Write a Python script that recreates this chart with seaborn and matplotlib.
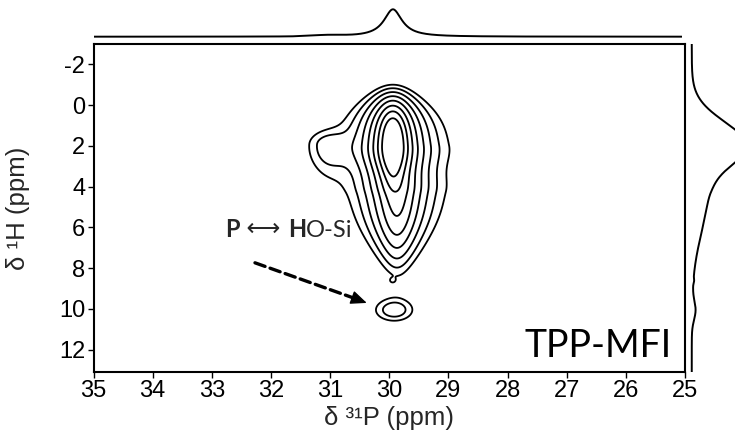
import numpy as np
import matplotlib
matplotlib.use("Agg")
import matplotlib.pyplot as plt
import seaborn as sns

# ---------------- data ----------------
p_ticks = [35, 34, 33, 32, 31, 30, 29, 28, 27, 26, 25]
h_ticks = [-2, 0, 2, 4, 6, 8, 10, 12]

# 2D peaks: 31P centre, 1H centre, amplitude, 31P width, 1H width (upfield side / downfield side),
# and broadening of the 31P width on the upfield side (per ppm^2 of 1H)
peak_names = ["core", "tail", "shoulder", "neck", "HO-Si"]
peak_p = [29.94, 29.87, 31.05, 29.95, 29.92]
peak_h = [1.98, 4.26, 1.95, 8.62, 10.07]
peak_amp = [1.0, 0.29, 0.044, 0.015, 0.066]
peak_wp = [0.185, 0.31, 0.25, 0.05, 0.28]
peak_wh_up = [1.17, 1.0, 0.5, 0.12, 0.47]
peak_wh_dn = [1.0, 2.05, 1.1, 0.12, 0.47]
peak_wp_growth = [0.12, 0.0, 0.0, 0.0, 0.0]
peak_p_shape = ["lorentz", "lorentz", "gauss", "gauss", "gauss"]

contour_levels = [0.0388, 0.0561, 0.0814, 0.118, 0.171, 0.248, 0.360, 0.522]

sample_label = "TPP-MFI"
x_label = "δ ³¹P (ppm)"
y_label = "δ ¹H (ppm)"

# ---------------- build spectrum ----------------
P = np.linspace(25.0, 35.0, 1001)
Hs = np.linspace(-3.0, 13.1, 805)
PP, HH = np.meshgrid(P, Hs)
field = np.zeros_like(PP)
for pc, hc, a, wp, wu, wd, gr, shp in zip(peak_p, peak_h, peak_amp, peak_wp, peak_wh_up,
                                          peak_wh_dn, peak_wp_growth, peak_p_shape):
    dh = HH - hc
    wp_local = wp * (1.0 + gr * np.minimum(dh, 0.0) ** 2)
    dp = PP - pc
    if shp == "lorentz":
        gp = 1.0 / (1.0 + (dp / wp_local) ** 2)
    else:
        gp = np.exp(-0.5 * (dp / wp_local) ** 2)
    wh = np.where(dh < 0, wu, wd)
    gh = np.exp(-0.5 * (dh / wh) ** 2)
    field += a * gp * gh

# skyline projections
top_proj = field.max(axis=0)
top_proj = top_proj / top_proj.max()
right_proj = field.max(axis=1)
right_proj = right_proj / right_proj.max()

# ---------------- figure ----------------
sns.set_style("ticks")
plt.rcParams["font.family"] = ["Liberation Sans", "DejaVu Sans"]
plt.rcParams["axes.unicode_minus"] = False

W, Hpx = 735, 444
fig = plt.figure(figsize=(W / 100, Hpx / 100), dpi=100)
fig.patch.set_facecolor("white")

def rect(l, r, b, t):
    return [l / W, 1 - b / Hpx, (r - l) / W, (b - t) / Hpx]

ax = fig.add_axes(rect(93.5, 685, 372, 44))
axt = fig.add_axes(rect(93.5, 681.7, 40, 4))
axr = fig.add_axes(rect(689, 749, 372, 44))

# contours
ax.contour(P, Hs, field, levels=contour_levels, colors="black", linewidths=1.3)
ax.set_xlim(35, 25)
ax.set_ylim(13.1, -3.0)
ax.set_xticks(p_ticks)
ax.set_yticks(h_ticks)
ax.tick_params(direction="out", length=4, width=1.0, labelsize=17, colors="black",
               top=False, right=False, pad=2)
for s in ax.spines.values():
    s.set_visible(True)
    s.set_linewidth(1.5)
    s.set_color("black")
ax.set_xlabel(x_label, fontsize=18.5)
ax.set_ylabel(y_label, fontsize=18.5)
ax.xaxis.set_label_coords(0.5, -0.14)
ax.xaxis.label.set_va("center")
ax.yaxis.set_label_coords(-0.128, 0.5)
ax.yaxis.label.set_va("center")

# sample name
ax.text(25.22, 12.38, sample_label, ha="right", va="baseline", fontsize=27,
        family=["Lato", "DejaVu Sans"], color="black")

# annotation P <-> HO-Si
fs_ann = 17
t1 = ax.text(32.78, 6.1, "P", ha="left", va="center", fontsize=fs_ann, fontweight="bold",
             family=["Lato", "DejaVu Sans"])
t2 = ax.annotate(" ⟷ ", xy=(1, 0), xycoords=t1, va="bottom", ha="left", fontsize=fs_ann,
                 family=["DejaVu Sans"])
t3 = ax.annotate("H", xy=(1, 0), xycoords=t2, va="bottom", ha="left", fontsize=fs_ann,
                 fontweight="bold", family=["Lato", "DejaVu Sans"])
ax.annotate("O-Si", xy=(1, 0), xycoords=t3, va="bottom", ha="left", fontsize=fs_ann,
            family=["Lato", "DejaVu Sans"])

# dashed arrow
ax.annotate("", xy=(30.62, 9.45), xytext=(32.27, 7.74),
            arrowprops=dict(arrowstyle="-", lw=2.4, color="black",
                            linestyle=(0, (3.2, 1.6)), shrinkA=0, shrinkB=0))
ax.annotate("", xy=(30.38, 9.71), xytext=(30.66, 9.41),
            arrowprops=dict(arrowstyle="-|>,head_length=0.7,head_width=0.3", lw=1.0,
                            color="black", shrinkA=0, shrinkB=0, mutation_scale=14))

# top projection
keep = P >= 25.06
sns.lineplot(x=P[keep], y=top_proj[keep], ax=axt, color="black", linewidth=1.4,
             estimator=None, sort=False)
axt.set_xlim(35, 25.06)
axt.set_ylim(-0.12, 1.194)
axt.axis("off")

# right projection
sns.lineplot(x=right_proj, y=Hs, ax=axr, color="black", linewidth=1.4,
             estimator=None, sort=False, orient="y")
axr.set_ylim(13.1, -3.0)
axr.set_xlim(-0.05, 1.04)
axr.axis("off")

fig.savefig("out.png", dpi=100, facecolor="white")
